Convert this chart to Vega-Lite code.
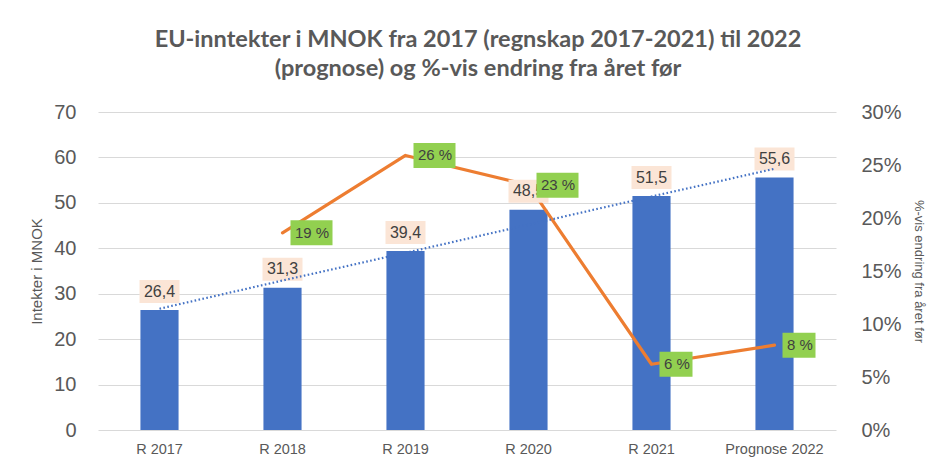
{
  "$schema": "https://vega.github.io/schema/vega-lite/v6.json",
  "width": 738,
  "height": 318,
  "autosize": {"type": "none"},
  "padding": {"left": 98, "top": 112, "right": 102, "bottom": 36},
  "background": "white",
  "title": {
    "text": ["EU-inntekter i MNOK fra 2017 (regnskap 2017-2021) til 2022", "(prognose) og %-vis endring fra året før"],
    "font": "Lato",
    "fontSize": 23.5,
    "fontWeight": "bold",
    "color": "#595959",
    "anchor": "middle",
    "lineHeight": 29,
    "offset": 22,
    "dx": 11
  },
  "data": {
    "values": [
      {"cat": "R 2017", "inntekt": 26.4, "lbl": "26,4", "pct": null, "pctLbl": null, "trend": 26.7},
      {"cat": "R 2018", "inntekt": 31.3, "lbl": "31,3", "pct": 0.186, "pctLbl": "19 %", "trend": 32.9},
      {"cat": "R 2019", "inntekt": 39.4, "lbl": "39,4", "pct": 0.259, "pctLbl": "26 %", "trend": 39.0},
      {"cat": "R 2020", "inntekt": 48.5, "lbl": "48,5", "pct": 0.231, "pctLbl": "23 %", "trend": 45.2},
      {"cat": "R 2021", "inntekt": 51.5, "lbl": "51,5", "pct": 0.062, "pctLbl": "6 %", "trend": 51.4},
      {"cat": "Prognose 2022", "inntekt": 55.6, "lbl": "55,6", "pct": 0.08, "pctLbl": "8 %", "trend": 57.5}
    ]
  },
  "encoding": {
    "x": {
      "field": "cat",
      "type": "nominal",
      "sort": ["R 2017", "R 2018", "R 2019", "R 2020", "R 2021", "Prognose 2022"],
      "scale": {"paddingInner": 0.69, "paddingOuter": 0.345},
      "axis": {
        "title": null,
        "labelAngle": 0,
        "domain": false,
        "ticks": false,
        "labelPadding": 12,
        "labelFontSize": 14.5,
        "labelColor": "#595959",
        "labelFont": "Liberation Sans"
      }
    }
  },
  "layer": [
    {
      "mark": {"type": "bar", "color": "#4472C4"},
      "encoding": {
        "y": {
          "field": "inntekt",
          "type": "quantitative",
          "scale": {"domain": [0, 70], "nice": false},
          "axis": {
            "orient": "left",
            "values": [0, 10, 20, 30, 40, 50, 60, 70],
            "title": "Intekter i MNOK",
            "titleFontSize": 15,
            "titleFontWeight": "normal",
            "titleColor": "#595959",
            "titleFont": "Liberation Sans",
            "titlePadding": 9,
            "labelFontSize": 20,
            "labelColor": "#595959",
            "labelFont": "Liberation Sans",
            "labelPadding": 22,
            "ticks": false,
            "domain": false,
            "grid": true,
            "gridColor": "#D9D9D9",
            "gridWidth": 1
          }
        }
      }
    },
    {
      "mark": {"type": "line", "color": "#ED7D31", "strokeWidth": 3.2, "strokeJoin": "round", "strokeCap": "round"},
      "encoding": {
        "y": {
          "field": "pct",
          "type": "quantitative",
          "scale": {"domain": [0, 0.3], "nice": false},
          "axis": {
            "orient": "right",
            "values": [0, 0.05, 0.1, 0.15, 0.2, 0.25, 0.3],
            "format": ".0%",
            "title": "%-vis endring fra året før",
            "titleFontSize": 13,
            "titleFontWeight": "normal",
            "titleColor": "#595959",
            "titleFont": "Liberation Sans",
            "titlePadding": 10,
            "labelFontSize": 20,
            "labelColor": "#595959",
            "labelFont": "Liberation Sans",
            "labelPadding": 25,
            "ticks": false,
            "domain": false,
            "grid": false
          }
        }
      }
    },
    {
      "mark": {"type": "point", "shape": "M-20,-30H20V-7H-20Z", "size": 4, "filled": true, "color": "#FBE5D6", "opacity": 1, "strokeWidth": 0},
      "encoding": {
        "y": {"field": "inntekt", "type": "quantitative", "scale": {"domain": [0, 70], "nice": false}, "axis": null}
      }
    },
    {
      "mark": {"type": "text", "baseline": "middle", "align": "center", "dy": -18.5, "fontSize": 16, "font": "Liberation Sans", "color": "#404040"},
      "encoding": {
        "y": {"field": "inntekt", "type": "quantitative", "scale": {"domain": [0, 70], "nice": false}, "axis": null},
        "text": {"field": "lbl"}
      }
    },
    {
      "mark": {"type": "line", "color": "#4472C4", "strokeWidth": 2.2, "strokeDash": [1.6, 2.4], "strokeCap": "butt"},
      "encoding": {
        "y": {"field": "trend", "type": "quantitative", "scale": {"domain": [0, 70], "nice": false}, "axis": null}
      }
    },
    {
      "mark": {"type": "point", "size": 4, "filled": true, "color": "#92D050", "opacity": 1, "strokeWidth": 0},
      "encoding": {
        "y": {"field": "pct", "type": "quantitative", "scale": {"domain": [0, 0.3], "nice": false}, "axis": null},
        "shape": {
          "condition": {"test": "datum.pct >= 0.095", "value": "M8,-12.5H50V12.5H8Z"},
          "value": "M8,-12.5H41V12.5H8Z"
        }
      }
    },
    {
      "mark": {"type": "text", "baseline": "middle", "align": "left", "dx": 12.5, "fontSize": 15, "font": "Liberation Sans", "color": "#404040"},
      "encoding": {
        "y": {"field": "pct", "type": "quantitative", "scale": {"domain": [0, 0.3], "nice": false}, "axis": null},
        "text": {"field": "pctLbl"}
      }
    }
  ],
  "resolve": {"scale": {"y": "independent"}},
  "config": {
    "view": {"stroke": null}
  }
}
